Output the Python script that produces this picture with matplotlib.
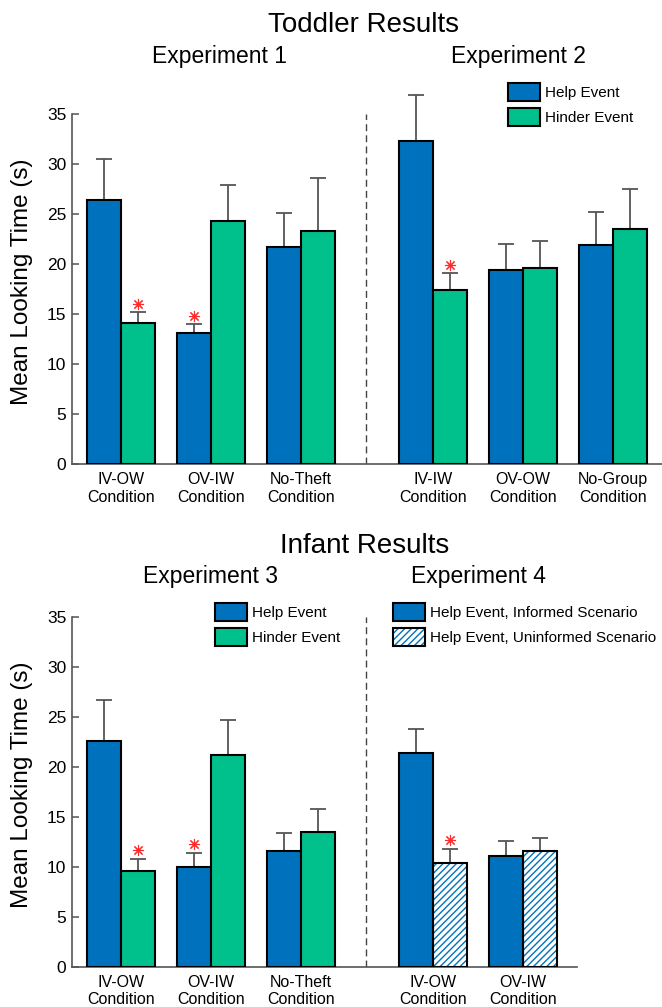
import matplotlib
matplotlib.use("Agg")
import matplotlib.pyplot as plt
from matplotlib.patches import Patch

plt.rcParams['font.family'] = ['Liberation Sans', 'DejaVu Sans']
plt.rcParams['hatch.linewidth'] = 1.0

# ---- data ----
exp1_labels = ["IV-OW\nCondition", "OV-IW\nCondition", "No-Theft\nCondition"]
exp1_help = [26.4, 13.1, 21.7]
exp1_help_err = [4.1, 0.9, 3.4]
exp1_hinder = [14.1, 24.3, 23.3]
exp1_hinder_err = [1.1, 3.6, 5.3]
exp1_help_sig = [False, True, False]
exp1_hinder_sig = [True, False, False]

exp2_labels = ["IV-IW\nCondition", "OV-OW\nCondition", "No-Group\nCondition"]
exp2_help = [32.3, 19.4, 21.9]
exp2_help_err = [4.6, 2.6, 3.3]
exp2_hinder = [17.4, 19.6, 23.5]
exp2_hinder_err = [1.7, 2.7, 4.0]
exp2_help_sig = [False, False, False]
exp2_hinder_sig = [True, False, False]

exp3_labels = ["IV-OW\nCondition", "OV-IW\nCondition", "No-Theft\nCondition"]
exp3_help = [22.6, 10.0, 11.6]
exp3_help_err = [4.1, 1.4, 1.8]
exp3_hinder = [9.6, 21.2, 13.5]
exp3_hinder_err = [1.2, 3.5, 2.3]
exp3_help_sig = [False, True, False]
exp3_hinder_sig = [True, False, False]

exp4_labels = ["IV-OW\nCondition", "OV-IW\nCondition"]
exp4_informed = [21.4, 11.1]
exp4_informed_err = [2.4, 1.5]
exp4_uninformed = [10.4, 11.6]
exp4_uninformed_err = [1.4, 1.3]
exp4_informed_sig = [False, False]
exp4_uninformed_sig = [True, False]

# ---- style ----
BLUE = "#0072BD"
GREEN = "#00C08C"
GRAY = "#555555"
RED = "#FF2A2A"
HATCH = "/////"
W = 0.38
LEFT_POS = [0, 1, 2]
RIGHT_OFF = 3.467
DIVIDER = 2.72

W_PX, H_PX = 662, 1007
fig = plt.figure(figsize=(W_PX / 100, H_PX / 100), dpi=100)


def fx(px):
    return px / W_PX


def fy(py):
    return 1 - py / H_PX


def draw_bars(ax, pos, vals, errs, sig, color, hatched=False):
    if hatched:
        ax.bar(pos, vals, W, color="white", edgecolor=BLUE, hatch=HATCH, linewidth=0, zorder=2)
        ax.bar(pos, vals, W, fill=False, edgecolor="black", linewidth=1.5, zorder=3)
    else:
        ax.bar(pos, vals, W, color=color, edgecolor="black", linewidth=1.5, zorder=3)
    ax.errorbar(pos, vals, yerr=[[0] * len(vals), errs], fmt="none", ecolor=GRAY,
                elinewidth=1.3, capsize=5.5, capthick=1.3, zorder=1)
    for p, v, e, s in zip(pos, vals, errs, sig):
        if s:
            ax.plot(p, v + e + 0.85, marker=(8, 2, 0), markersize=8, color=RED,
                    markeredgewidth=0.8, zorder=4)


def setup_axes(ax, xend):
    ax.set_xlim(-0.544, 6.011)
    ax.set_ylim(0, 40)
    ax.spines["top"].set_visible(False)
    ax.spines["right"].set_visible(False)
    ax.spines["left"].set_bounds(0, 35)
    ax.spines["bottom"].set_bounds(-0.544, xend)
    for s in ("left", "bottom"):
        ax.spines[s].set_color(GRAY)
        ax.spines[s].set_linewidth(1.2)
    ax.set_yticks(range(0, 36, 5))
    ax.tick_params(axis="y", direction="in", length=5, width=1.1, color=GRAY,
                   labelsize=12.5, pad=4)
    ax.tick_params(axis="x", length=0, labelsize=11.5, pad=6)
    ax.vlines(DIVIDER, 0, 35, colors="#444444", linestyles=(0, (5, 3)), linewidth=1.0)
    ax.set_ylabel("Mean Looking Time (s)", fontsize=17.5, va="center")


def legend_at(px, py, handles, labels):
    fig.legend(handles, labels, loc="upper left", bbox_to_anchor=(fx(px), fy(py)),
               bbox_transform=fig.transFigure, frameon=False, fontsize=11,
               borderpad=0, borderaxespad=0, handlelength=2.1, handleheight=1.45,
               labelspacing=0.45, handletextpad=0.35)


# ---- top panel: toddlers ----
ax1 = fig.add_axes([fx(72), fy(464), 590 / W_PX, 400 / H_PX])
right_pos = [p + RIGHT_OFF for p in LEFT_POS]
draw_bars(ax1, [p - W / 2 for p in LEFT_POS], exp1_help, exp1_help_err, exp1_help_sig, BLUE)
draw_bars(ax1, [p + W / 2 for p in LEFT_POS], exp1_hinder, exp1_hinder_err, exp1_hinder_sig, GREEN)
draw_bars(ax1, [p - W / 2 for p in right_pos], exp2_help, exp2_help_err, exp2_help_sig, BLUE)
draw_bars(ax1, [p + W / 2 for p in right_pos], exp2_hinder, exp2_hinder_err, exp2_hinder_sig, GREEN)
setup_axes(ax1, 6.011)
ax1.set_xticks(LEFT_POS + right_pos)
ax1.set_xticklabels(exp1_labels + exp2_labels)
ax1.yaxis.set_label_coords(fx(22), fy(282), transform=fig.transFigure)

# ---- bottom panel: infants ----
ax2 = fig.add_axes([fx(72), fy(966.7), 590 / W_PX, 400 / H_PX])
right_pos4 = [p + RIGHT_OFF for p in LEFT_POS[:2]]
draw_bars(ax2, [p - W / 2 for p in LEFT_POS], exp3_help, exp3_help_err, exp3_help_sig, BLUE)
draw_bars(ax2, [p + W / 2 for p in LEFT_POS], exp3_hinder, exp3_hinder_err, exp3_hinder_sig, GREEN)
draw_bars(ax2, [p - W / 2 for p in right_pos4], exp4_informed, exp4_informed_err, exp4_informed_sig, BLUE)
draw_bars(ax2, [p + W / 2 for p in right_pos4], exp4_uninformed, exp4_uninformed_err,
          exp4_uninformed_sig, BLUE, hatched=True)
setup_axes(ax2, 5.067)
ax2.set_xticks(LEFT_POS + right_pos4)
ax2.set_xticklabels(exp3_labels + exp4_labels)
ax2.yaxis.set_label_coords(fx(22), fy(785), transform=fig.transFigure)

# ---- titles ----
fig.text(fx(363), fy(32), "Toddler Results", fontsize=20, ha="center", va="baseline")
fig.text(fx(220), fy(63), "Experiment 1", fontsize=16.5, ha="center", va="baseline")
fig.text(fx(518), fy(63), "Experiment 2", fontsize=16.5, ha="center", va="baseline")
fig.text(fx(365), fy(553), "Infant Results", fontsize=20, ha="center", va="baseline")
fig.text(fx(210), fy(583), "Experiment 3", fontsize=16.5, ha="center", va="baseline")
fig.text(fx(478), fy(583), "Experiment 4", fontsize=16.5, ha="center", va="baseline")

# ---- legends ----
help_h = Patch(facecolor=BLUE, edgecolor="black", linewidth=1.5)
hinder_h = Patch(facecolor=GREEN, edgecolor="black", linewidth=1.5)
unin_fill = Patch(facecolor="white", edgecolor=BLUE, hatch=HATCH, linewidth=0)
unin_edge = Patch(fill=False, edgecolor="black", linewidth=1.5)
legend_at(508, 83, [help_h, hinder_h], ["Help Event", "Hinder Event"])
legend_at(215, 603, [help_h, hinder_h], ["Help Event", "Hinder Event"])
legend_at(393, 603, [help_h, (unin_fill, unin_edge)],
          ["Help Event, Informed Scenario", "Help Event, Uninformed Scenario"])

fig.savefig("out.png", dpi=100)
